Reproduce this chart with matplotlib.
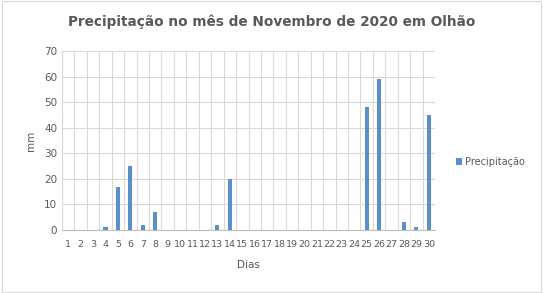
import matplotlib.pyplot as plt
import numpy as np

dias = list(range(1, 31))
precip = [0, 0, 0, 1, 17, 25, 2, 7, 0, 0,
          0, 0, 2, 20, 0, 0, 0, 0, 0, 0,
          0, 0, 0, 0, 48, 59, 0, 3, 1, 45]
yticks = [0, 10, 20, 30, 40, 50, 60, 70]

txt = '#595959'
grid = '#d9d9d9'

fig = plt.figure(figsize=(5.43, 2.93), dpi=100)
ax = fig.add_axes([62 / 543, 1 - 230 / 293, (435 - 62) / 543, (230 - 51) / 293])

x = np.arange(len(dias))
ax.bar(x, precip, width=0.33, color='#5b8fc7', label='Precipitação', zorder=3)

ax.set_xlim(-0.5, len(dias) - 0.5)
ax.set_ylim(0, 70)
ax.set_yticks(yticks)
ax.set_xticks(x)
ax.set_xticklabels([str(d) for d in dias], fontsize=6.8)
ax.set_xticks(np.arange(-0.5, len(dias)), minor=True)
ax.grid(axis='x', which='minor', color=grid, lw=0.8)
ax.grid(axis='y', which='major', color=grid, lw=0.8)
ax.tick_params(which='both', length=0, colors=txt)
ax.tick_params(axis='y', labelsize=7.5)
ax.tick_params(axis='x', pad=7)
for s in ['top', 'right', 'left']:
    ax.spines[s].set_visible(False)
ax.spines['bottom'].set_color('#bfbfbf')

ax.set_xlabel('Dias', color=txt, fontsize=7.5, labelpad=8)
ax.set_ylabel('mm', color=txt, fontsize=7.5, labelpad=6)
fig.text(0.5, 1 - 22 / 293, 'Precipitação no mês de Novembro de 2020 em Olhão',
         ha='center', va='center', fontsize=9.8, fontweight='bold', color=txt)

fig.legend(loc='center left', bbox_to_anchor=(447 / 543, 1 - 162 / 293),
           frameon=False, fontsize=7, labelcolor=txt,
           handlelength=0.6, handleheight=0.6, handletextpad=0.3)

fig.patches.append(plt.Rectangle((0.004, 0.004), 0.992, 0.992, transform=fig.transFigure,
                                 fill=False, edgecolor='#d9d9d9', lw=0.8))

fig.savefig('out.png', dpi=100)
